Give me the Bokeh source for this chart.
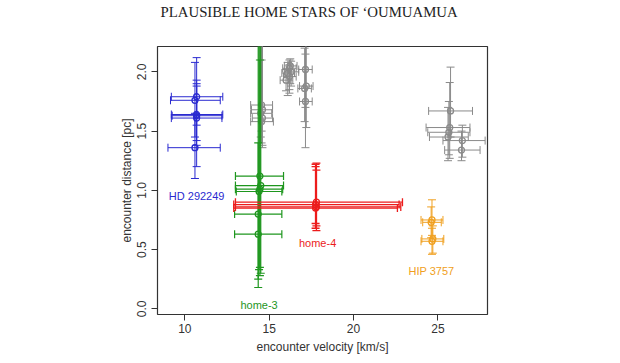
from bokeh.plotting import figure
from bokeh.models import Range1d, FixedTicker, ColumnDataSource, Title
from bokeh.core.properties import value
from bokeh.embed import file_html
from bokeh.resources import INLINE
import math

# ---------------- data ----------------
# other candidate stars (grey)
gray_v    = [14.55, 14.60, 14.50, 14.60, 14.55,
             16.20, 16.10, 16.30, 16.20, 16.00, 16.25,
             17.15, 17.20, 17.10, 17.15,
             25.75, 25.70, 25.65, 25.60, 26.45, 26.40]
gray_d    = [1.72, 1.68, 1.65, 1.61, 1.58,
             2.03, 1.99, 2.00, 1.96, 1.93, 2.05,
             2.02, 1.88, 1.86, 1.75,
             1.67, 1.53, 1.49, 1.45, 1.42, 1.34]
gray_vlo  = [13.90, 13.95, 13.90, 14.00, 13.90,
             15.80, 15.75, 15.90, 15.85, 15.65, 15.90,
             16.75, 16.80, 16.70, 16.80,
             24.45, 24.30, 24.40, 24.50, 25.30, 25.40]
gray_vhi  = [15.20, 15.20, 15.15, 15.20, 15.25,
             16.60, 16.50, 16.75, 16.60, 16.40, 16.65,
             17.55, 17.60, 17.50, 17.55,
             27.05, 26.90, 26.90, 26.80, 27.80, 27.50]
gray_dlo  = [1.40, 1.36, 1.45, 1.38, 1.50,
             1.85, 1.80, 1.88, 1.82, 1.84, 1.90,
             1.70, 1.53, 1.58, 1.36,
             1.45, 1.27, 1.30, 1.25, 1.28, 1.25]
gray_dhi  = [2.35, 2.30, 2.25, 2.40, 2.10,
             2.10, 2.08, 2.09, 2.06, 2.02, 2.11,
             2.35, 2.25, 2.20, 2.15,
             2.04, 1.91, 1.75, 1.70, 1.55, 1.50]

# HD 292249 (blue)
blue_v   = [10.70, 10.60, 10.70, 10.70, 10.70, 10.60]
blue_d   = [1.79, 1.76, 1.64, 1.63, 1.61, 1.36]
blue_vlo = [9.20, 9.15, 9.20, 9.25, 9.20, 9.00]
blue_vhi = [12.25, 12.10, 12.25, 12.20, 12.20, 12.10]
blue_dlo = [1.55, 1.45, 1.42, 1.38, 1.20, 1.10]
blue_dhi = [2.12, 2.08, 1.93, 1.88, 1.90, 1.65]

# home-3 (green)
green_v   = [14.45, 14.50, 14.45, 14.40, 14.35, 14.35]
green_d   = [1.12, 1.04, 1.01, 0.99, 0.80, 0.63]
green_vlo = [13.00, 13.00, 13.00, 13.05, 12.95, 12.95]
green_vhi = [15.85, 15.85, 15.80, 15.75, 15.75, 15.75]
green_dlo = [0.35, 0.30, 0.28, 0.33, 0.25, 0.18]
green_dhi = [2.30, 2.25, 2.10, 2.35, 2.40, 1.40]

# home-4 (red)
red_v   = [17.80, 17.75, 17.80, 17.75]
red_d   = [0.90, 0.88, 0.86, 0.85]
red_vlo = [13.00, 12.90, 13.00, 12.90]
red_vhi = [22.90, 22.70, 22.80, 22.60]
red_dlo = [0.70, 0.68, 0.66, 0.72]
red_dhi = [1.23, 1.20, 1.17, 1.22]

# HIP 3757 (orange)
orange_v   = [24.65, 24.60, 24.70, 24.65]
orange_d   = [0.75, 0.73, 0.59, 0.57]
orange_vlo = [24.00, 24.10, 24.05, 24.00]
orange_vhi = [25.30, 25.20, 25.35, 25.30]
orange_dlo = [0.62, 0.60, 0.47, 0.46]
orange_dhi = [0.92, 0.86, 0.70, 0.68]

# labels
label_text = ["HD 292249", "home-3", "home-4", "HIP 3757"]
label_v    = [10.70, 14.40, 17.87, 24.62]
label_d    = [0.95, 0.035, 0.555, 0.32]

x_ticks = [10, 15, 20, 25]
x_tick_labels = ["10", "15", "20", "25"]
y_ticks = [0.0, 0.5, 1.0, 1.5, 2.0]
y_tick_labels = ["0.0", "0.5", "1.0", "1.5", "2.0"]

title_text = "PLAUSIBLE HOME STARS OF \u2018OUMUAMUA"

# ---------------- figure ----------------
p = figure(frame_width=330, frame_height=268, title=None,
           x_range=Range1d(8.38, 27.94), y_range=Range1d(-0.048, 2.214),
           output_backend="svg", toolbar_location=None,
           min_border_left=157, min_border_right=117,
           min_border_top=46, min_border_bottom=41)
p.background_fill_color = "white"
p.border_fill_color = "white"
p.outline_line_color = "#333333"
p.outline_line_width = 1.2
p.grid.visible = False

# spacer between frame and title, then the title itself
p.add_layout(Title(text=" ", text_font_size="1px", standoff=24), "above")
p.add_layout(Title(text=title_text, text_font="Liberation Serif",
                   text_font_size="14.8px", text_font_style="normal",
                   text_color="#222222", align="left", offset=3,
                   vertical_align="bottom", standoff=0), "above")

for ax in (p.xaxis[0], p.yaxis[0]):
    ax.axis_line_color = None
    ax.major_tick_out = 6
    ax.major_tick_in = 0
    ax.minor_tick_line_color = None
    ax.major_tick_line_color = "#333333"
    ax.major_label_text_font = "Liberation Sans"
    ax.major_label_text_font_size = "12px"
    ax.major_label_text_color = "#333333"
    ax.axis_label_text_font = "Liberation Sans"
    ax.axis_label_text_font_size = "12px"
    ax.axis_label_text_font_style = "normal"
    ax.axis_label_text_color = "#333333"

p.xaxis.ticker = FixedTicker(ticks=x_ticks)
p.xaxis.major_label_overrides = dict(zip(x_ticks, x_tick_labels))
p.yaxis.ticker = FixedTicker(ticks=y_ticks)
p.yaxis.major_label_overrides = dict(zip(y_ticks, y_tick_labels))
p.yaxis.major_label_orientation = "vertical"
p.xaxis.axis_label = "encounter velocity [km/s]"
p.yaxis.axis_label = "encounter distance [pc]"
p.xaxis.major_label_standoff = 3
p.xaxis.axis_label_standoff = 4
p.yaxis.major_label_standoff = 5
p.yaxis.axis_label_standoff = 1


def errorbars(v, d, vlo, vhi, dlo, dhi, color, lw=1.0):
    src = ColumnDataSource(dict(v=v, d=d, vlo=vlo, vhi=vhi, dlo=dlo, dhi=dhi))
    p.segment(x0="v", y0="dlo", x1="v", y1="dhi", source=src,
              line_color=color, line_width=lw)
    p.segment(x0="vlo", y0="d", x1="vhi", y1="d", source=src,
              line_color=color, line_width=lw)
    p.scatter(x="v", y="dlo", source=src, marker="dash", size=8,
              line_color=color, line_width=lw)
    p.scatter(x="v", y="dhi", source=src, marker="dash", size=8,
              line_color=color, line_width=lw)
    p.scatter(x="vlo", y="d", source=src, marker="dash", size=8, angle=math.pi / 2,
              line_color=color, line_width=lw)
    p.scatter(x="vhi", y="d", source=src, marker="dash", size=8, angle=math.pi / 2,
              line_color=color, line_width=lw)
    p.scatter(x="v", y="d", source=src, marker="circle", size=6,
              fill_color=None, line_color=color, line_width=1.3)


errorbars(gray_v, gray_d, gray_vlo, gray_vhi, gray_dlo, gray_dhi, "#8a8a8a", 1.0)
errorbars(blue_v, blue_d, blue_vlo, blue_vhi, blue_dlo, blue_dhi, "#2a2ad0", 1.0)
errorbars(green_v, green_d, green_vlo, green_vhi, green_dlo, green_dhi, "#1e961e", 1.2)
errorbars(red_v, red_d, red_vlo, red_vhi, red_dlo, red_dhi, "#ec1c1c", 1.3)
errorbars(orange_v, orange_d, orange_vlo, orange_vhi, orange_dlo, orange_dhi, "#f0a020", 1.0)

label_colors = ["#2a2ad0", "#1e961e", "#ec1c1c", "#f0a020"]
lsrc = ColumnDataSource(dict(x=label_v, y=label_d, t=label_text, c=label_colors))
p.text(x="x", y="y", text="t", text_color="c", source=lsrc,
       text_align="center", text_baseline="middle",
       text_font=value("Liberation Sans"), text_font_size="11px")

open("out.html", "w").write(file_html(p, INLINE))
